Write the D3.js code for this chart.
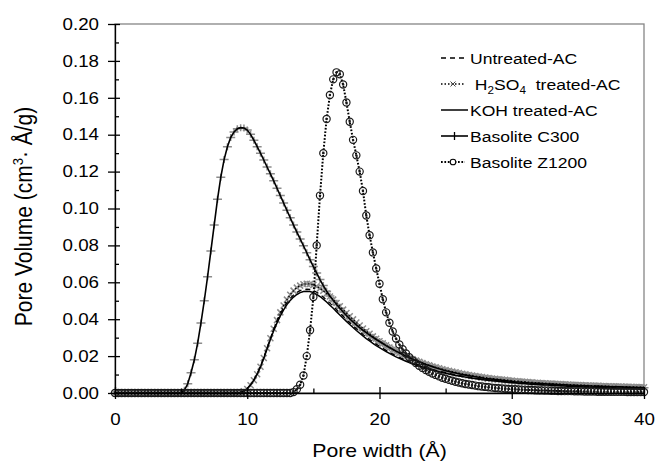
<!DOCTYPE html>
<html>
<head>
<meta charset="utf-8">
<style>
  body { margin: 0; background: #fff; }
  svg { display: block; font-family: "Liberation Sans", Arial, Helvetica, sans-serif; }
  .axis .domain { stroke: #000; stroke-width: 1.3; }
  .axis .tick line { stroke: #000; stroke-width: 1.3; }
  .axis .tick text { font-size: 16.3px; fill: #000; }
  .legend text { font-size: 15px; fill: #000; white-space: pre; }
  .title { fill: #000; }
</style>
</head>
<body>
<svg width="657" height="461"></svg>
<script src="https://d3js.org/d3.v7.min.js"></script>
<script>
// pore width (Å), sampling grid shared by all curves
const poreWidth = [
  0, 0.25, 0.5, 0.75, 1, 1.25, 1.5, 1.75,
  2, 2.25, 2.5, 2.75, 3, 3.25, 3.5, 3.75,
  4, 4.25, 4.5, 4.75, 5, 5.25, 5.5, 5.75,
  6, 6.25, 6.5, 6.75, 7, 7.25, 7.5, 7.75,
  8, 8.25, 8.5, 8.75, 9, 9.25, 9.5, 9.75,
  10, 10.25, 10.5, 10.75, 11, 11.25, 11.5, 11.75,
  12, 12.25, 12.5, 12.75, 13, 13.25, 13.5, 13.75,
  14, 14.25, 14.5, 14.75, 15, 15.25, 15.5, 15.75,
  16, 16.25, 16.5, 16.75, 17, 17.25, 17.5, 17.75,
  18, 18.25, 18.5, 18.75, 19, 19.25, 19.5, 19.75,
  20, 20.25, 20.5, 20.75, 21, 21.25, 21.5, 21.75,
  22, 22.25, 22.5, 22.75, 23, 23.25, 23.5, 23.75,
  24, 24.25, 24.5, 24.75, 25, 25.25, 25.5, 25.75,
  26, 26.25, 26.5, 26.75, 27, 27.25, 27.5, 27.75,
  28, 28.25, 28.5, 28.75, 29, 29.25, 29.5, 29.75,
  30, 30.25, 30.5, 30.75, 31, 31.25, 31.5, 31.75,
  32, 32.25, 32.5, 32.75, 33, 33.25, 33.5, 33.75,
  34, 34.25, 34.5, 34.75, 35, 35.25, 35.5, 35.75,
  36, 36.25, 36.5, 36.75, 37, 37.25, 37.5, 37.75,
  38, 38.25, 38.5, 38.75, 39, 39.25, 39.5, 39.75,
  40
];

// pore volume (cm3·Å/g)
const untreatedAC = [
  0, 0, 0, 0, 0, 0, 0, 0,
  0, 0, 0, 0, 0, 0, 0, 0,
  0, 0, 0, 0, 0, 0, 0, 0,
  0, 0, 0, 0, 0, 0, 0, 0,
  0, 0, 0, 0, 0, 0, 0.0003, 0.001,
  0.0025, 0.0045, 0.0072, 0.0105, 0.0145, 0.0193, 0.0245, 0.0297,
  0.0345, 0.0389, 0.0428, 0.0462, 0.049, 0.0513, 0.0531, 0.0545,
  0.0555, 0.0561, 0.0563, 0.0561, 0.0555, 0.0546, 0.0534, 0.052,
  0.0504, 0.0487, 0.047, 0.0452, 0.0434, 0.0416, 0.0398, 0.0381,
  0.0364, 0.0348, 0.0332, 0.0317, 0.0303, 0.029, 0.0277, 0.0265,
  0.0253, 0.0242, 0.0231, 0.0221, 0.0211, 0.0202, 0.0193, 0.0185,
  0.0177, 0.017, 0.0163, 0.0156, 0.015, 0.0144, 0.0138, 0.0133,
  0.0128, 0.0123, 0.0118, 0.0114, 0.011, 0.0106, 0.0102, 0.0098,
  0.0095, 0.0092, 0.0089, 0.0086, 0.0083, 0.008, 0.0078, 0.0076,
  0.0073, 0.0071, 0.0069, 0.0067, 0.0065, 0.0063, 0.0061, 0.006,
  0.0058, 0.0057, 0.0055, 0.0054, 0.0052, 0.0051, 0.005, 0.0048,
  0.0047, 0.0046, 0.0045, 0.0044, 0.0043, 0.0042, 0.0041, 0.004,
  0.0039, 0.0038, 0.0037, 0.0036, 0.0035, 0.0034, 0.0034, 0.0033,
  0.0032, 0.0031, 0.003, 0.003, 0.0029, 0.0028, 0.0028, 0.0027,
  0.0026, 0.0026, 0.0025, 0.0025, 0.0024, 0.0024, 0.0023, 0.0023,
  0.0022
];

const h2so4AC = [
  0, 0, 0, 0, 0, 0, 0, 0,
  0, 0, 0, 0, 0, 0, 0, 0,
  0, 0, 0, 0, 0, 0, 0, 0,
  0, 0, 0, 0, 0, 0, 0, 0,
  0, 0, 0, 0, 0, 0, 0.0003, 0.0009,
  0.0022, 0.0042, 0.0069, 0.0102, 0.0142, 0.019, 0.0243, 0.0297,
  0.0348, 0.0395, 0.0437, 0.0474, 0.0506, 0.0533, 0.0555, 0.0571,
  0.0582, 0.0589, 0.0592, 0.0591, 0.0586, 0.0578, 0.0567, 0.0554,
  0.0539, 0.0523, 0.0506, 0.0488, 0.047, 0.0452, 0.0434, 0.0416,
  0.0399, 0.0382, 0.0366, 0.035, 0.0335, 0.0321, 0.0307, 0.0294,
  0.0281, 0.0269, 0.0258, 0.0247, 0.0236, 0.0226, 0.0217, 0.0208,
  0.0199, 0.0191, 0.0183, 0.0176, 0.0169, 0.0162, 0.0156, 0.015,
  0.0144, 0.0139, 0.0134, 0.0129, 0.0124, 0.012, 0.0116, 0.0112,
  0.0108, 0.0104, 0.0101, 0.0098, 0.0095, 0.0092, 0.0089, 0.0086,
  0.0084, 0.0081, 0.0079, 0.0077, 0.0075, 0.0073, 0.0071, 0.0069,
  0.0067, 0.0065, 0.0064, 0.0062, 0.0061, 0.0059, 0.0058, 0.0056,
  0.0055, 0.0054, 0.0053, 0.0052, 0.0051, 0.005, 0.0049, 0.0048,
  0.0047, 0.0046, 0.0045, 0.0044, 0.0043, 0.0043, 0.0042, 0.0041,
  0.004, 0.004, 0.0039, 0.0038, 0.0038, 0.0037, 0.0036, 0.0036,
  0.0035, 0.0035, 0.0034, 0.0034, 0.0033, 0.0033, 0.0032, 0.0032,
  0.0031
];

const kohAC = [
  0, 0, 0, 0, 0, 0, 0, 0,
  0, 0, 0, 0, 0, 0, 0, 0,
  0, 0, 0, 0, 0, 0, 0, 0,
  0, 0, 0, 0, 0, 0, 0, 0,
  0, 0, 0, 0, 0, 0, 0.0003, 0.001,
  0.0024, 0.0044, 0.007, 0.0102, 0.0141, 0.0188, 0.0239, 0.029,
  0.0337, 0.038, 0.0418, 0.0451, 0.0479, 0.0502, 0.052, 0.0534,
  0.0544, 0.055, 0.0552, 0.055, 0.0544, 0.0535, 0.0523, 0.0509,
  0.0493, 0.0476, 0.0459, 0.0441, 0.0423, 0.0405, 0.0388, 0.0371,
  0.0355, 0.0339, 0.0324, 0.0309, 0.0295, 0.0282, 0.0269, 0.0257,
  0.0246, 0.0235, 0.0225, 0.0215, 0.0205, 0.0196, 0.0188, 0.018,
  0.0172, 0.0165, 0.0158, 0.0152, 0.0146, 0.014, 0.0134, 0.0129,
  0.0124, 0.0119, 0.0115, 0.0111, 0.0107, 0.0103, 0.0099, 0.0095,
  0.0092, 0.0089, 0.0086, 0.0083, 0.008, 0.0078, 0.0075, 0.0073,
  0.0071, 0.0069, 0.0067, 0.0065, 0.0063, 0.0061, 0.0059, 0.0058,
  0.0056, 0.0055, 0.0053, 0.0052, 0.0051, 0.0049, 0.0048, 0.0047,
  0.0046, 0.0045, 0.0044, 0.0043, 0.0042, 0.0041, 0.004, 0.0039,
  0.0038, 0.0037, 0.0036, 0.0035, 0.0034, 0.0034, 0.0033, 0.0032,
  0.0031, 0.0031, 0.003, 0.0029, 0.0028, 0.0028, 0.0027, 0.0027,
  0.0026, 0.0025, 0.0025, 0.0024, 0.0024, 0.0023, 0.0023, 0.0022,
  0.0022
];

const basoliteC300 = [
  0, 0, 0, 0, 0, 0, 0, 0,
  0, 0, 0, 0, 0, 0, 0, 0,
  0, 0, 0, 0, 0.0003, 0.0015, 0.005, 0.011,
  0.018, 0.027, 0.038, 0.05, 0.063, 0.077, 0.091, 0.105,
  0.117, 0.1265, 0.1335, 0.1385, 0.1415, 0.1432, 0.1438, 0.1436,
  0.1425, 0.1402, 0.137, 0.1335, 0.13, 0.1263, 0.1225, 0.1188,
  0.115, 0.111, 0.107, 0.103, 0.099, 0.095, 0.091, 0.0872,
  0.0835, 0.0798, 0.076, 0.0722, 0.0685, 0.065, 0.0615, 0.0582,
  0.0552, 0.0526, 0.0502, 0.048, 0.0459, 0.0439, 0.042, 0.0402,
  0.0385, 0.0369, 0.0354, 0.034, 0.0327, 0.0314, 0.0302, 0.029,
  0.0279, 0.0268, 0.0257, 0.0247, 0.0237, 0.0227, 0.0218, 0.0209,
  0.02, 0.0192, 0.0184, 0.0176, 0.0169, 0.0162, 0.0155, 0.0149,
  0.0143, 0.0137, 0.0131, 0.0126, 0.0121, 0.0116, 0.0112, 0.0108,
  0.0104, 0.01, 0.0097, 0.0094, 0.0091, 0.0088, 0.0085, 0.0082,
  0.0079, 0.0077, 0.0075, 0.0073, 0.0071, 0.0069, 0.0067, 0.0065,
  0.0063, 0.0061, 0.006, 0.0058, 0.0057, 0.0055, 0.0054, 0.0053,
  0.0052, 0.0051, 0.005, 0.0049, 0.0048, 0.0047, 0.0046, 0.0045,
  0.0044, 0.0043, 0.0042, 0.0042, 0.0041, 0.004, 0.0039, 0.0039,
  0.0038, 0.0037, 0.0037, 0.0036, 0.0035, 0.0035, 0.0034, 0.0034,
  0.0033, 0.0033, 0.0032, 0.0032, 0.0031, 0.0031, 0.003, 0.003,
  0.0029
];

const basoliteZ1200 = [
  0, 0, 0, 0, 0, 0, 0, 0,
  0, 0, 0, 0, 0, 0, 0, 0,
  0, 0, 0, 0, 0, 0, 0, 0,
  0, 0, 0, 0, 0, 0, 0, 0,
  0, 0, 0, 0, 0, 0, 0, 0,
  0, 0, 0, 0, 0, 0, 0, 0,
  0, 0, 0, 0, 0, 0, 0.0005, 0.002,
  0.0045, 0.0095, 0.02, 0.034, 0.052, 0.08, 0.107, 0.13,
  0.1485, 0.1615, 0.17, 0.1738, 0.1728, 0.1672, 0.1575, 0.147,
  0.1372, 0.1288, 0.12, 0.1095, 0.0962, 0.0855, 0.0762, 0.0675,
  0.0592, 0.0508, 0.0437, 0.0381, 0.0333, 0.0295, 0.0263, 0.0237,
  0.0214, 0.0194, 0.0177, 0.0162, 0.0148, 0.0136, 0.0125, 0.0115,
  0.0106, 0.0098, 0.009, 0.0083, 0.0077, 0.0071, 0.0066, 0.0061,
  0.0057, 0.0053, 0.0049, 0.0046, 0.0043, 0.004, 0.0037, 0.0035,
  0.0033, 0.0031, 0.0029, 0.0027, 0.0026, 0.0024, 0.0023, 0.0022,
  0.0021, 0.002, 0.0019, 0.0018, 0.0017, 0.0016, 0.0016, 0.0015,
  0.0014, 0.0014, 0.0013, 0.0013, 0.0012, 0.0012, 0.0011, 0.0011,
  0.001, 0.001, 0.001, 0.0009, 0.0009, 0.0009, 0.0008, 0.0008,
  0.0008, 0.0008, 0.0007, 0.0007, 0.0007, 0.0007, 0.0006, 0.0006,
  0.0006, 0.0006, 0.0006, 0.0005, 0.0005, 0.0005, 0.0005, 0.0005,
  0.0005
];

const xTicks = [0, 10, 20, 30, 40];
const xMinorTicks = [5, 15, 25, 35];
const yTicks = [0, 0.02, 0.04, 0.06, 0.08, 0.1, 0.12, 0.14, 0.16, 0.18, 0.2];
const yMinorTicks = [0.01, 0.03, 0.05, 0.07, 0.09, 0.11, 0.13, 0.15, 0.17, 0.19];

const width = 657, height = 461;
const margin = { top: 24, right: 13, bottom: 68, left: 115 };
const stretch = 1.15; // the original chart text is a bit wider than Arial
const grey = "#8c8c8c";

const svg = d3.select("svg");

let x = d3.scaleLinear().domain([0, 40]).range([margin.left, width - margin.right]);
let y = d3.scaleLinear().domain([0, 0.2]).range([height - margin.bottom, margin.top]);

// plot frame (top and right are grey)
svg.append("rect")
  .attr("x", x(0)).attr("y", y(0.2))
  .attr("width", x(40) - x(0)).attr("height", y(0) - y(0.2))
  .attr("fill", "none").attr("stroke", "#868686").attr("stroke-width", 1.3);

// series, in drawing order
const series = [
  { name: "Untreated-AC", values: untreatedAC, dash: "5,4", lw: 1.3, marker: null },
  { name: "H2SO4 treated-AC", values: h2so4AC, dash: "1.5,2", lw: 1.3, marker: "times" },
  { name: "KOH treated-AC", values: kohAC, dash: null, lw: 1.5, marker: null },
  { name: "Basolite C300", values: basoliteC300, dash: null, lw: 1.6, marker: "plus" },
  { name: "Basolite Z1200", values: basoliteZ1200, dash: "1.7,1.7", lw: 2, marker: "circle" }
];

function markerPath(type, cx, cy) {
  if (type === "plus") return `M${cx - 4.5},${cy}H${cx + 4.5}M${cx},${cy - 3.5}V${cy + 3.5}`;
  if (type === "times") return `M${cx - 3},${cy - 3}L${cx + 3},${cy + 3}M${cx - 3},${cy + 3}L${cx + 3},${cy - 3}`;
  return "";
}

let line = values => d3.line()
  .x((d, i) => x(poreWidth[i]))
  .y(d => y(d))(values);

// grey markers sit under the lines
let markerGroup = svg.append("g");
series.filter(s => s.marker === "plus" || s.marker === "times").forEach(s => {
  markerGroup.append("g")
    .selectAll("path")
    .data(s.values)
    .join("path")
    .attr("d", (d, i) => markerPath(s.marker, x(poreWidth[i]), y(d)))
    .attr("stroke", grey)
    .attr("stroke-width", 1.5)
    .attr("fill", "none");
});

svg.append("g")
  .selectAll("path")
  .data(series)
  .join("path")
  .attr("d", s => line(s.values))
  .attr("fill", "none")
  .attr("stroke", "#000")
  .attr("stroke-width", s => s.lw)
  .attr("stroke-dasharray", s => s.dash);

// open circles for Basolite Z1200
let z = series[4];
let circles = svg.append("g");
circles.selectAll("circle.ring")
  .data(z.values)
  .join("circle")
  .attr("class", "ring")
  .attr("cx", (d, i) => x(poreWidth[i]))
  .attr("cy", d => y(d))
  .attr("r", 3.6)
  .attr("fill", "none")
  .attr("stroke", "#1a1a1a")
  .attr("stroke-width", 1.2);
circles.selectAll("circle.dot")
  .data(z.values)
  .join("circle")
  .attr("class", "dot")
  .attr("cx", (d, i) => x(poreWidth[i]))
  .attr("cy", d => y(d))
  .attr("r", 1.2)
  .attr("fill", "#1a1a1a");

// x axis
let xAxis = svg.append("g")
  .attr("class", "axis x")
  .attr("transform", `translate(0,${y(0)})`)
  .call(d3.axisBottom(x).tickValues(xTicks).tickSize(6).tickSizeOuter(0).tickFormat(d3.format("d")));
xAxis.selectAll(".tick line").attr("y1", -6);
xAxis.selectAll(".tick text")
  .attr("y", 20)
  .attr("transform", `scale(${stretch},1)`);

svg.append("g")
  .attr("class", "axis x-minor")
  .attr("transform", `translate(0,${y(0)})`)
  .call(d3.axisBottom(x).tickValues(xMinorTicks).tickSize(-4.5).tickSizeOuter(0).tickFormat(""))
  .select(".domain").remove();

// y axis
let yAxis = svg.append("g")
  .attr("class", "axis y")
  .attr("transform", `translate(${x(0)},0)`)
  .call(d3.axisLeft(y).tickValues(yTicks).tickSize(7).tickSizeOuter(0).tickFormat(d3.format(".2f")));
yAxis.selectAll(".tick line").attr("x1", 5);
yAxis.selectAll(".tick text")
  .attr("x", -16 / stretch)
  .attr("transform", `scale(${stretch},1)`);

svg.append("g")
  .attr("class", "axis y-minor")
  .attr("transform", `translate(${x(0)},0)`)
  .call(d3.axisLeft(y).tickValues(yMinorTicks).tickSize(-4).tickSizeOuter(0).tickFormat(""))
  .select(".domain").remove();

// axis titles
svg.append("text")
  .attr("class", "title")
  .attr("text-anchor", "middle")
  .style("font-size", "18px")
  .attr("transform", `translate(${(x(0) + x(40)) / 2},457) scale(1.18,1)`)
  .text("Pore width (Å)");

let yTitle = svg.append("text")
  .attr("class", "title")
  .attr("text-anchor", "middle")
  .style("font-size", "21px")
  .attr("transform", `translate(32,${(y(0) + y(0.2)) / 2 + 8}) rotate(-90) scale(1,1.12)`);
yTitle.append("tspan").text("Pore Volume (cm");
yTitle.append("tspan").attr("dy", -8).style("font-size", "13px").text("3");
yTitle.append("tspan").attr("dy", 8).text("· Å/g)");

// legend
let legend = svg.append("g").attr("class", "legend");
series.forEach((s, i) => {
  let ly = 58 + i * 26;
  let row = legend.append("g");
  let x1 = 441, x2 = s.marker === "times" || s.marker === "circle" ? 465 : 468;
  row.append("line")
    .attr("x1", x1).attr("x2", x2).attr("y1", ly).attr("y2", ly)
    .attr("stroke", "#000")
    .attr("stroke-width", s.lw === 2 ? 1.8 : s.lw)
    .attr("stroke-dasharray", s.dash);
  let mx = (x1 + x2) / 2;
  if (s.marker === "plus") {
    row.append("path").attr("d", `M${mx},${ly - 4}V${ly + 4}`).attr("stroke", "#000").attr("stroke-width", 1.3);
  } else if (s.marker === "times") {
    row.append("path").attr("d", `M${mx - 2.5},${ly - 2.5}L${mx + 2.5},${ly + 2.5}M${mx - 2.5},${ly + 2.5}L${mx + 2.5},${ly - 2.5}`)
      .attr("stroke", "#444").attr("stroke-width", 1);
  } else if (s.marker === "circle") {
    row.append("circle").attr("cx", mx).attr("cy", ly).attr("r", 2.8)
      .attr("fill", "#fff").attr("stroke", "#000").attr("stroke-width", 1.1);
  }
  let t = row.append("text")
    .attr("transform", `translate(470,${ly + 5.5}) scale(1.17,1)`);
  if (s.name.startsWith("H2SO4")) {
    t.append("tspan").text(" H");
    t.append("tspan").attr("dy", 4).style("font-size", "10px").text("2");
    t.append("tspan").attr("dy", -4).text("SO");
    t.append("tspan").attr("dy", 4).style("font-size", "10px").text("4");
    t.append("tspan").attr("dy", -4).text("  treated-AC");
  } else {
    t.text(s.name);
  }
});
</script>
</body>
</html>
